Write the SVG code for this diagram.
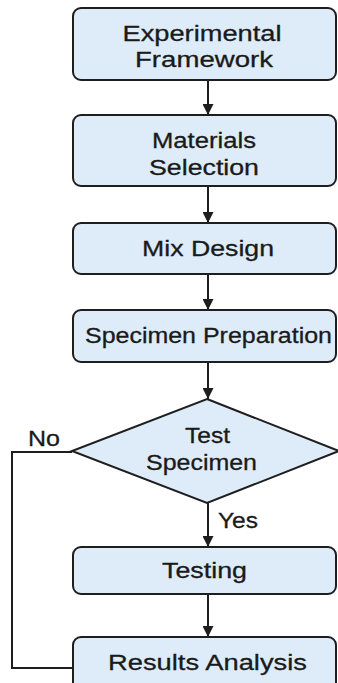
<svg xmlns="http://www.w3.org/2000/svg" width="338" height="683" viewBox="0 0 338 683">
  <style>
    .box { fill: #deecf9; stroke: #1e1e1e; stroke-width: 2; }
    .lbl { font-family: "Liberation Sans", Arial, Helvetica, sans-serif; font-size: 22px; fill: #1a1a1a; stroke: #1a1a1a; stroke-width: 0.3; text-anchor: middle; }
    .edge { fill: none; stroke: #1e1e1e; stroke-width: 2; }
  </style>
  <defs>
    <marker id="arrow" viewBox="0 0 10 10" refX="10" refY="5" markerWidth="5.5" markerHeight="5.5" markerUnits="strokeWidth" orient="auto">
      <path d="M0,0 L10,5 L0,10 Z" fill="#1e1e1e"/>
    </marker>
  </defs>
  <rect width="338" height="683" fill="#ffffff"/>

  <g id="connectors">
    <line class="edge" x1="208" y1="80" x2="208" y2="115" marker-end="url(#arrow)"/>
    <line class="edge" x1="208" y1="186" x2="208" y2="223" marker-end="url(#arrow)"/>
    <line class="edge" x1="208" y1="274" x2="208" y2="310" marker-end="url(#arrow)"/>
    <line class="edge" x1="208" y1="362" x2="208" y2="399" marker-end="url(#arrow)"/>
    <line class="edge" x1="208" y1="503" x2="208" y2="547" marker-end="url(#arrow)"/>
    <line class="edge" x1="208" y1="594" x2="208" y2="637" marker-end="url(#arrow)"/>
    <polyline class="edge" points="72,452 12,452 12,668 73,668"/>
    <text class="lbl" x="44" y="446" textLength="32" lengthAdjust="spacingAndGlyphs">No</text>
    <text class="lbl" x="238" y="528" textLength="40" lengthAdjust="spacingAndGlyphs">Yes</text>
  </g>

  <g id="experimental-framework">
    <rect class="box" x="73" y="8" width="263" height="72" rx="8"/>
    <text class="lbl" x="202" y="41" textLength="159" lengthAdjust="spacingAndGlyphs">Experimental</text>
    <text class="lbl" x="204" y="67" textLength="138" lengthAdjust="spacingAndGlyphs">Framework</text>
  </g>

  <g id="materials-selection">
    <rect class="box" x="73" y="115" width="263" height="71" rx="8"/>
    <text class="lbl" x="204" y="148" textLength="104" lengthAdjust="spacingAndGlyphs">Materials</text>
    <text class="lbl" x="204" y="175" textLength="110" lengthAdjust="spacingAndGlyphs">Selection</text>
  </g>

  <g id="mix-design">
    <rect class="box" x="73" y="223" width="263" height="51" rx="8"/>
    <text class="lbl" x="208" y="256" textLength="132" lengthAdjust="spacingAndGlyphs">Mix Design</text>
  </g>

  <g id="specimen-preparation">
    <rect class="box" x="73" y="310" width="263" height="52" rx="8"/>
    <text class="lbl" x="208.5" y="343" textLength="247" lengthAdjust="spacingAndGlyphs">Specimen Preparation</text>
  </g>

  <g id="test-specimen">
    <polygon class="box" points="207,399 339,451 207,503 72,451"/>
    <text class="lbl" x="207.5" y="443" textLength="45" lengthAdjust="spacingAndGlyphs">Test</text>
    <text class="lbl" x="201.5" y="470" textLength="111" lengthAdjust="spacingAndGlyphs">Specimen</text>
  </g>

  <g id="testing">
    <rect class="box" x="73" y="547" width="263" height="47" rx="8"/>
    <text class="lbl" x="204.5" y="578" textLength="85" lengthAdjust="spacingAndGlyphs">Testing</text>
  </g>

  <g id="results-analysis">
    <rect class="box" x="73" y="637" width="263" height="56" rx="8"/>
    <text class="lbl" x="207.5" y="670" textLength="199" lengthAdjust="spacingAndGlyphs">Results Analysis</text>
  </g>
</svg>
